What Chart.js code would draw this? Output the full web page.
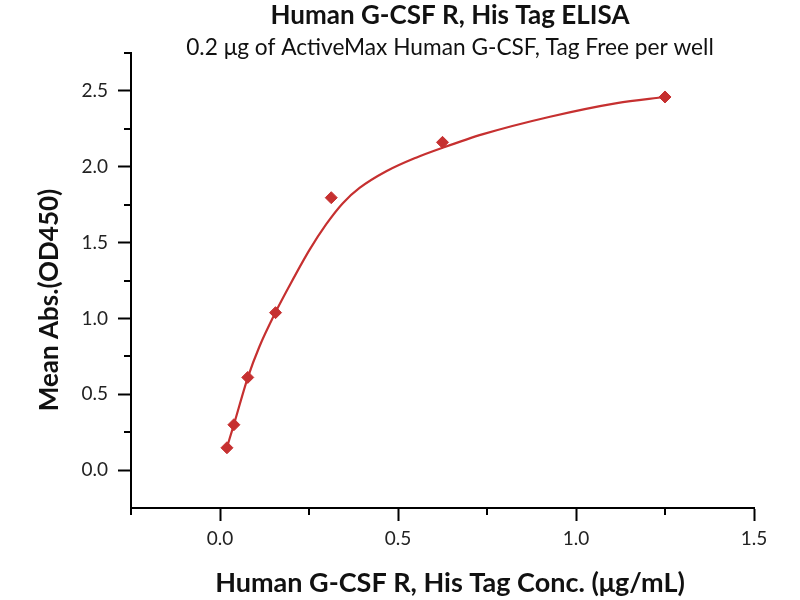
<!DOCTYPE html>
<html>
<head>
<meta charset="utf-8">
<script src="https://cdn.jsdelivr.net/npm/chart.js@4.4.0/dist/chart.umd.min.js"></script>
<style>
body { margin: 0; background: #fff; }
</style>
</head>
<body>
<canvas id="elisaChart" width="800" height="600"></canvas>
<script>
// measured points, conc (ug/mL) vs OD450
const conc = [0.0195, 0.039, 0.078, 0.156, 0.3125, 0.625, 1.25];
const meanAbs = [0.147, 0.299, 0.611, 1.038, 1.796, 2.161, 2.460];

// fitted curve
const fitX = [0.0195, 0.039, 0.078, 0.110, 0.156, 0.194, 0.251, 0.298, 0.345, 0.392, 0.467, 0.551, 0.625, 0.739, 0.927, 1.115, 1.25];
const fitY = [0.15, 0.30, 0.61, 0.81, 1.04, 1.21, 1.45, 1.62, 1.76, 1.86, 1.97, 2.06, 2.125, 2.215, 2.33, 2.42, 2.46];

const xMajor = [0, 0.5, 1.0, 1.5];
const xMinor = [-0.25, 0.25, 0.75, 1.25];
const yMajor = [0, 0.5, 1.0, 1.5, 2.0, 2.5];
const yMinor = [0.25, 0.75, 1.25, 1.75, 2.25, 2.75];

const chartTitle = "Human G-CSF R, His Tag ELISA";
const chartSubtitle = "0.2 \u03bcg of ActiveMax Human G-CSF, Tag Free per well";
const xTitle = "Human G-CSF R, His Tag Conc. (\u03bcg/mL)";
const yTitle = "Mean Abs.(OD450)";

const red = "rgb(198, 48, 48)";
const fontFam = "Lato, 'Open Sans', sans-serif";

// minor ticks + titles
const extrasPlugin = {
    id: "extras",
    afterDraw(chart) {
        const ctx = chart.ctx;
        const xs = chart.scales.x;
        const ys = chart.scales.y;
        ctx.save();
        ctx.strokeStyle = "#000";
        ctx.lineWidth = 2;
        xMinor.forEach(v => {
            const px = Math.round(xs.getPixelForValue(v));
            ctx.beginPath();
            ctx.moveTo(px, xs.top);
            ctx.lineTo(px, xs.top + 7);
            ctx.stroke();
        });
        yMinor.forEach(v => {
            const py = Math.round(ys.getPixelForValue(v));
            ctx.beginPath();
            ctx.moveTo(ys.right - 7, py);
            ctx.lineTo(ys.right, py);
            ctx.stroke();
        });

        ctx.fillStyle = "#111";
        ctx.textAlign = "center";
        ctx.textBaseline = "middle";
        ctx.font = "bold 26px " + fontFam;
        ctx.fillText(chartTitle, 450, 16);
        ctx.font = "22.7px " + fontFam;
        ctx.fillText(chartSubtitle, 450, 48);
        ctx.font = "bold 27px " + fontFam;
        ctx.fillText(xTitle, 450, 583);
        ctx.font = "bold 26px " + fontFam;
        ctx.translate(50, 300);
        ctx.rotate(-Math.PI / 2);
        ctx.fillText(yTitle, 0, 0);
        ctx.restore();
    }
};

const ctx = document.getElementById("elisaChart").getContext("2d");
const chart = new Chart(ctx, {
    type: "scatter",
    data: {
        datasets: [{
            label: "fit",
            data: fitX.map((x, i) => ({ x: x, y: fitY[i] })),
            showLine: true,
            borderColor: red,
            borderWidth: 2.2,
            pointRadius: 0,
            cubicInterpolationMode: "monotone",
            order: 2
        }, {
            label: "Mean Abs.",
            data: conc.map((x, i) => ({ x: x, y: meanAbs[i] })),
            pointStyle: "rectRot",
            pointRadius: 6,
            backgroundColor: red,
            borderColor: red,
            borderWidth: 1,
            order: 1
        }]
    },
    options: {
        responsive: false,
        animation: false,
        layout: { padding: { top: 53, right: 46, bottom: 0, left: 0 } },
        plugins: {
            legend: { display: false },
            tooltip: { enabled: false }
        },
        scales: {
            x: {
                type: "linear",
                min: -0.25,
                max: 1.5,
                afterBuildTicks: (scale) => { scale.ticks = xMajor.map(v => ({ value: v })); },
                afterFit: (scale) => { scale.height = 92; },
                grid: { drawOnChartArea: false, drawTicks: true, tickLength: 13, tickWidth: 2, tickColor: "#000" },
                border: { display: true, color: "#000", width: 2 },
                ticks: {
                    color: "#222",
                    font: { family: fontFam, size: 19 },
                    padding: 6,
                    callback: (v) => Number(v).toFixed(1)
                }
            },
            y: {
                type: "linear",
                min: -0.25,
                max: 2.75,
                afterBuildTicks: (scale) => { scale.ticks = yMajor.map(v => ({ value: v })); },
                afterFit: (scale) => { scale.width = 131; },
                grid: { drawOnChartArea: false, drawTicks: true, tickLength: 13, tickWidth: 2, tickColor: "#000" },
                border: { display: true, color: "#000", width: 2 },
                ticks: {
                    color: "#222",
                    font: { family: fontFam, size: 19 },
                    padding: 10,
                    callback: (v) => Number(v).toFixed(1)
                }
            }
        }
    },
    plugins: [extrasPlugin]
});
</script>
</body>
</html>
